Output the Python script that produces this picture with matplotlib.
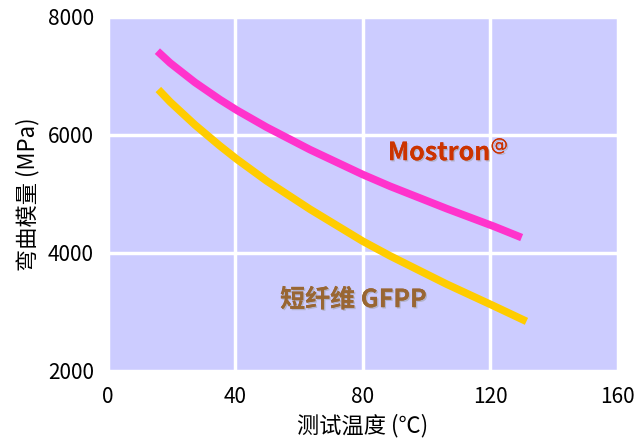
import matplotlib.pyplot as plt
import matplotlib.patheffects as pe

plt.rcParams['font.family'] = ['Noto Sans CJK SC', 'DejaVu Sans']

# temperatures (°C) and flexural modulus (MPa)
temp_mostron = [15.5, 19.5, 27.3, 35.1, 40.4, 49.8, 63.4, 79.9, 88.5, 106.3, 121.1, 129.8]
mod_mostron = [7420, 7220, 6890, 6600, 6420, 6130, 5750, 5330, 5130, 4750, 4450, 4260]

temp_gfpp = [15.8, 19.5, 27.3, 35.0, 40.4, 49.8, 63.4, 79.9, 88.5, 106.3, 121.1, 131.3]
mod_gfpp = [6770, 6560, 6170, 5820, 5590, 5220, 4740, 4200, 3950, 3470, 3100, 2840]

xticks = [0, 40, 80, 120, 160]
yticks = [2000, 4000, 6000, 8000]

fig = plt.figure(figsize=(6.39, 4.40), dpi=100)
ax = fig.add_axes([0.169, 0.157, 0.798, 0.8045])
ax.set_facecolor('#ccccff')

ax.plot(temp_mostron, mod_mostron, color='#ff33cc', lw=5.5, solid_capstyle='butt')
ax.plot(temp_gfpp, mod_gfpp, color='#ffcc00', lw=5.5, solid_capstyle='butt')

ax.set_xlim(0, 160)
ax.set_ylim(2000, 8000)
ax.set_xticks(xticks)
ax.set_yticks(yticks)
ax.grid(True, color='white', lw=2.5)
ax.set_axisbelow(True)
for s in ax.spines.values():
    s.set_visible(False)
ax.tick_params(length=0, labelsize=15)
ax.tick_params(axis='y', pad=10)
ax.tick_params(axis='x', pad=11)

ax.set_xlabel('测试温度 (℃)', fontsize=16, labelpad=4)
ax.set_ylabel('弯曲模量 (MPa)', fontsize=16, labelpad=6)

shadow = [pe.withSimplePatchShadow(offset=(1, -1), shadow_rgbFace='#999999', alpha=0.5), pe.Normal()]
ax.text(87.8, 5710, 'Mostron$^{@}$', color='#cc3300', fontsize=18, fontweight='bold',
        va='center', ha='left', path_effects=shadow)
ax.text(54.0, 3200, '短纤维 GFPP', color='#996633', fontsize=18, fontweight='bold',
        va='center', ha='left', path_effects=shadow)

fig.savefig('out.png', dpi=100)
